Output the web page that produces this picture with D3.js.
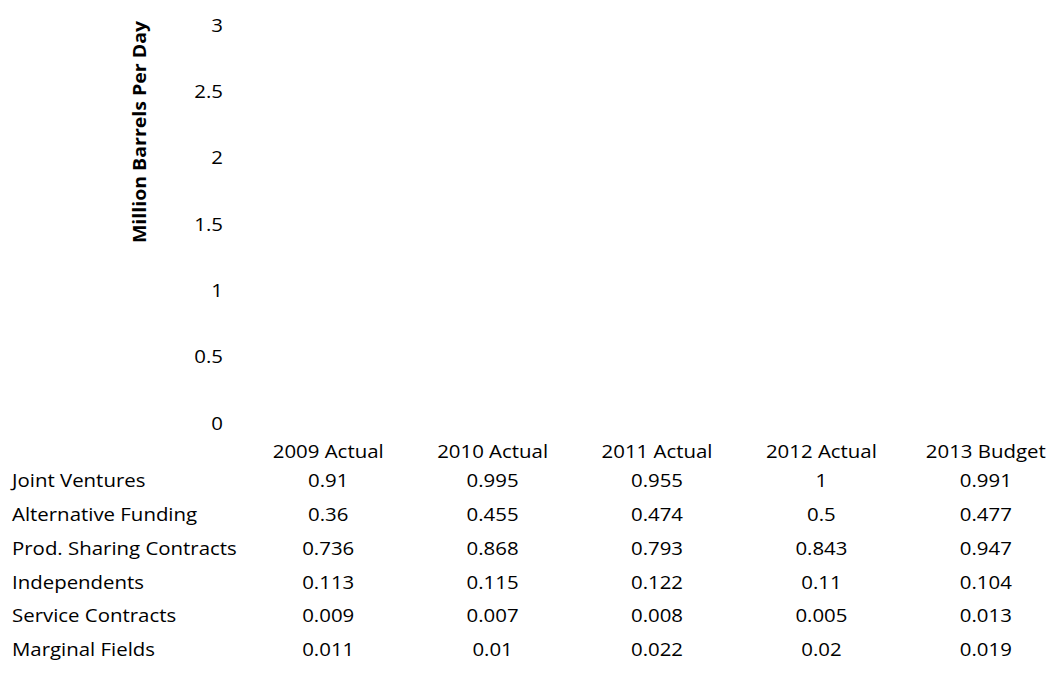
<!DOCTYPE html>
<html>
<head>
<meta charset="utf-8">
<script src="https://cdn.jsdelivr.net/npm/d3@7"></script>
<style>
  html, body { margin: 0; padding: 0; background: #fff; }
  svg { display: block; }
  text { font-family: "Open Sans", "Noto Sans", sans-serif; fill: #000; }
</style>
</head>
<body>
<svg id="chart" width="1049" height="685"></svg>
<script>
// Oil production by arrangement type, million barrels per day
const years = ["2009 Actual", "2010 Actual", "2011 Actual", "2012 Actual", "2013 Budget"];
const seriesNames = ["Joint Ventures", "Alternative Funding", "Prod. Sharing Contracts",
                     "Independents", "Service Contracts", "Marginal Fields"];
const jointVentures        = [0.91, 0.995, 0.955, 1, 0.991];
const alternativeFunding   = [0.36, 0.455, 0.474, 0.5, 0.477];
const prodSharing          = [0.736, 0.868, 0.793, 0.843, 0.947];
const independents         = [0.113, 0.115, 0.122, 0.11, 0.104];
const serviceContracts     = [0.009, 0.007, 0.008, 0.005, 0.013];
const marginalFields       = [0.011, 0.01, 0.022, 0.02, 0.019];
const yTicks = [0, 0.5, 1, 1.5, 2, 2.5, 3];
const yTickLabels = ["0", "0.5", "1", "1.5", "2", "2.5", "3"];
const yTitle = "Million Barrels Per Day";

const seriesValues = [jointVentures, alternativeFunding, prodSharing,
                      independents, serviceContracts, marginalFields];

const svg = d3.select("#chart");
const fontSize = 17.6;
const fontFamily = "'Open Sans', 'Noto Sans', sans-serif";
const widen = "scale(1.16,1)";   // slightly extended lettering

const x = d3.scaleBand().domain(years).range([246, 1068]).paddingInner(0.5).paddingOuter(0.25);
const col = d3.scaleBand().domain(years).range([246, 1068]);
const y = d3.scaleLinear().domain([0, 3]).range([423, 25]);

// Stacked columns (rendered in the page background colour, as in the source chart)
const rows = years.map((yr, i) => {
  const r = { year: yr };
  seriesNames.forEach((s, j) => r[s] = seriesValues[j][i]);
  return r;
});
const stacked = d3.stack().keys(seriesNames)(rows);
svg.append("g").attr("class", "bars")
  .selectAll("g").data(stacked).join("g")
  .selectAll("rect").data(d => d).join("rect")
  .attr("x", d => x(d.data.year))
  .attr("width", x.bandwidth())
  .attr("y", d => y(d[1]))
  .attr("height", d => y(d[0]) - y(d[1]))
  .attr("fill", "#ffffff");

// Value axis: labels only
const yAxis = d3.axisLeft(y).tickValues(yTicks)
  .tickFormat((d, i) => yTickLabels[i]).tickSize(0).tickPadding(0);
const ga = svg.append("g").attr("transform", "translate(223,0)").call(yAxis);
ga.select(".domain").remove();
ga.selectAll("text").attr("font-size", fontSize)
  .style("font-family", fontFamily).attr("x", 0).attr("dy", "0.35em")
  .attr("transform", widen);

// Axis title
svg.append("text")
  .attr("transform", "translate(146,132) rotate(-90) scale(1.11,1)")
  .attr("text-anchor", "middle")
  .attr("font-size", fontSize)
  .attr("font-weight", "bold")
  .text(yTitle);

// Data table: column headers
const xAxis = d3.axisBottom(col).tickSize(0).tickPadding(0);
const gx = svg.append("g").attr("transform", "translate(0,452)").call(xAxis);
gx.select(".domain").remove();
gx.selectAll("text").attr("font-size", fontSize)
  .style("font-family", fontFamily).attr("y", 0).attr("dy", "0.35em")
  .attr("transform", widen);

// Data table rows
const rowY = d3.scalePoint().domain(seriesNames).range([481, 650]);
const table = svg.append("g").attr("class", "table");
seriesNames.forEach((s, j) => {
  table.append("text")
    .attr("transform", `translate(12,${rowY(s)}) ${widen}`)
    .attr("dy", "0.35em")
    .attr("font-size", fontSize).text(s);
  years.forEach((yr, i) => {
    table.append("text")
      .attr("transform", `translate(${col(yr) + col.bandwidth() / 2},${rowY(s)}) ${widen}`)
      .attr("dy", "0.35em")
      .attr("text-anchor", "middle")
      .attr("font-size", fontSize).text(seriesValues[j][i]);
  });
});
</script>
</body>
</html>
